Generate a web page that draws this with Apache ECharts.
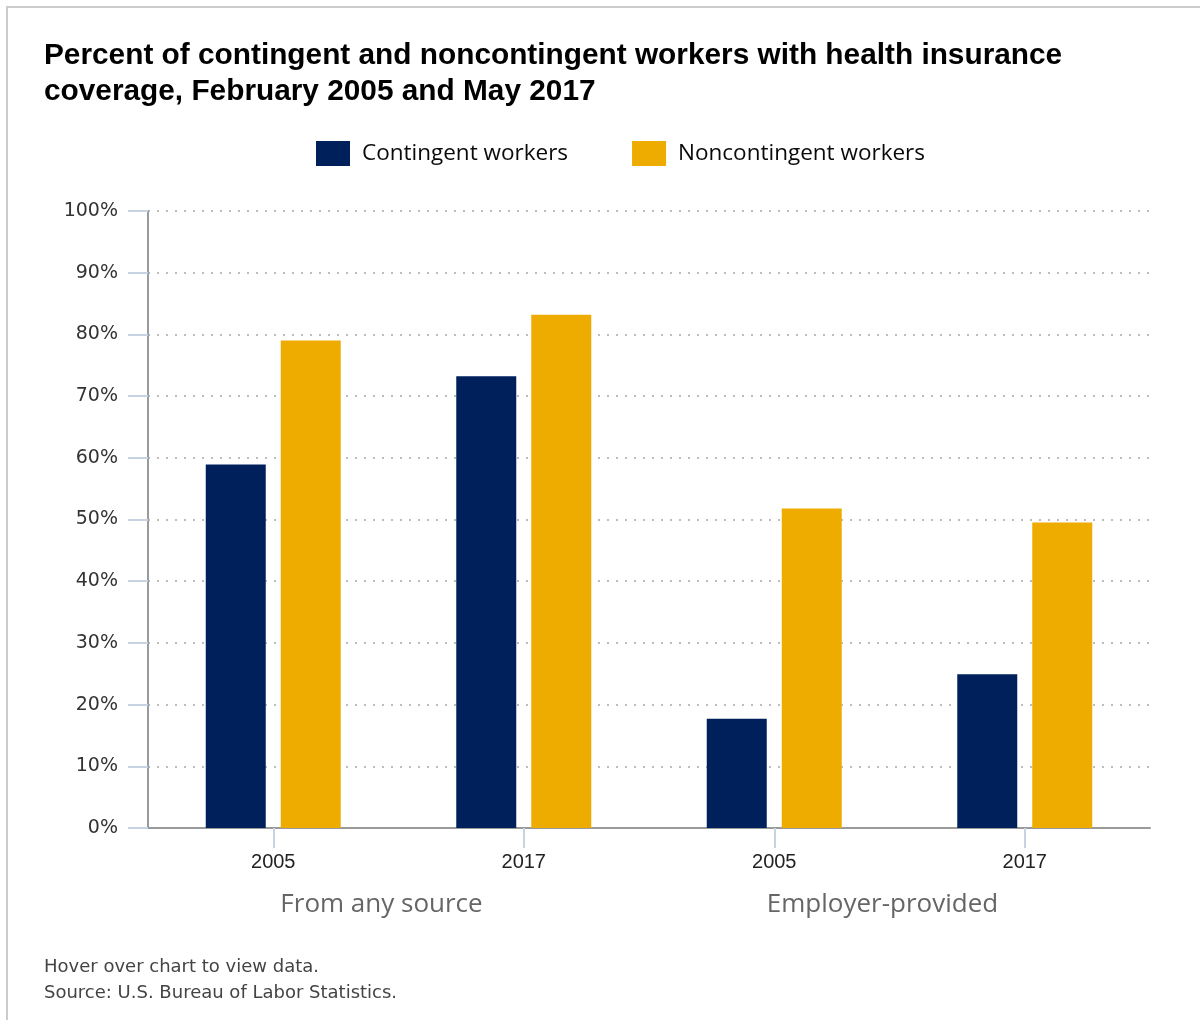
<!DOCTYPE html>
<html>
<head>
<meta charset="utf-8">
<script src="https://cdn.jsdelivr.net/npm/echarts@6/dist/echarts.min.js"></script>
<style>
  html, body { margin: 0; padding: 0; background: #fff; }
  #chart { width: 1200px; height: 1020px; }
</style>
</head>
<body>
<div id="chart"></div>
<script>
// Health insurance coverage, percent of workers
const years = ['2005', '2017', '2005', '2017'];
const groups = ['From any source', 'Employer-provided'];
const contingent = [58.9, 73.2, 17.7, 24.9];
const noncontingent = [79.0, 83.2, 51.8, 49.5];
const yTicks = [0, 10, 20, 30, 40, 50, 60, 70, 80, 90, 100];

const chart = echarts.init(document.getElementById('chart'), null, { renderer: 'canvas' });

const tickColor = '#c5d3e2';
const axisColor = '#9a9a9a';

chart.setOption({
  animation: false,
  backgroundColor: '#ffffff',
  graphic: [{
    type: 'rect',
    shape: { x: 7, y: 7, width: 1400, height: 1200 },
    style: { fill: 'none', stroke: '#cccccc', lineWidth: 2 },
    silent: true
  }, {
    type: 'text',
    left: 44,
    top: 954,
    style: {
      text: 'Hover over chart to view data.\nSource: U.S. Bureau of Labor Statistics.',
      font: '18px "DejaVu Sans"',
      lineHeight: 26,
      fill: '#444444'
    },
    silent: true
  }],
  title: {
    text: 'Percent of contingent and noncontingent workers with health insurance\ncoverage, February 2005 and May 2017',
    left: 44,
    top: 38,
    padding: 0,
    textStyle: {
      fontFamily: 'Liberation Sans',
      fontWeight: 'bold',
      fontSize: 29.8,
      lineHeight: 36,
      color: '#000000'
    }
  },
  legend: {
    left: 316,
    top: 141,
    padding: 0,
    icon: 'rect',
    itemWidth: 34,
    itemHeight: 25,
    itemGap: 64,
    textStyle: {
      fontFamily: 'Open Sans',
      fontSize: 22.5,
      color: '#0a0a0a',
      padding: [0, 0, 0, 7]
    },
    data: ['Contingent workers', 'Noncontingent workers']
  },
  grid: { left: 148, right: 50, top: 211, bottom: 192, containLabel: false },
  xAxis: [{
    type: 'category',
    data: years,
    axisLine: { show: true, lineStyle: { color: axisColor, width: 2 } },
    axisTick: { show: true, alignWithLabel: true, length: 20, lineStyle: { color: tickColor, width: 2 } },
    axisLabel: {
      margin: 24,
      fontFamily: 'Liberation Sans',
      fontSize: 20,
      color: '#222222'
    }
  }, {
    type: 'category',
    data: groups,
    position: 'bottom',
    axisLine: { show: false },
    axisTick: { show: false },
    axisLabel: {
      margin: 64,
      fontFamily: 'Open Sans',
      fontSize: 26,
      color: '#666666',
      padding: [0, 34, 0, 0]
    }
  }],
  yAxis: {
    type: 'value',
    min: yTicks[0],
    max: yTicks[yTicks.length - 1],
    interval: 10,
    axisLine: { show: true, lineStyle: { color: axisColor, width: 2 } },
    axisTick: { show: true, length: 20, lineStyle: { color: tickColor, width: 2 } },
    axisLabel: {
      margin: 30,
      fontFamily: 'DejaVu Sans',
      fontSize: 19,
      color: '#333333',
      formatter: '{value}%'
    },
    splitLine: {
      show: true,
      lineStyle: { color: '#bdbdbd', width: 2, type: [2, 7] }
    }
  },
  series: [{
    name: 'Contingent workers',
    type: 'bar',
    xAxisIndex: 0,
    data: contingent,
    barWidth: 60,
    barGap: '25%',
    itemStyle: { color: '#00205c' }
  }, {
    name: 'Noncontingent workers',
    type: 'bar',
    xAxisIndex: 0,
    data: noncontingent,
    barWidth: 60,
    barGap: '25%',
    itemStyle: { color: '#efac00' }
  }]
});
</script>
</body>
</html>
